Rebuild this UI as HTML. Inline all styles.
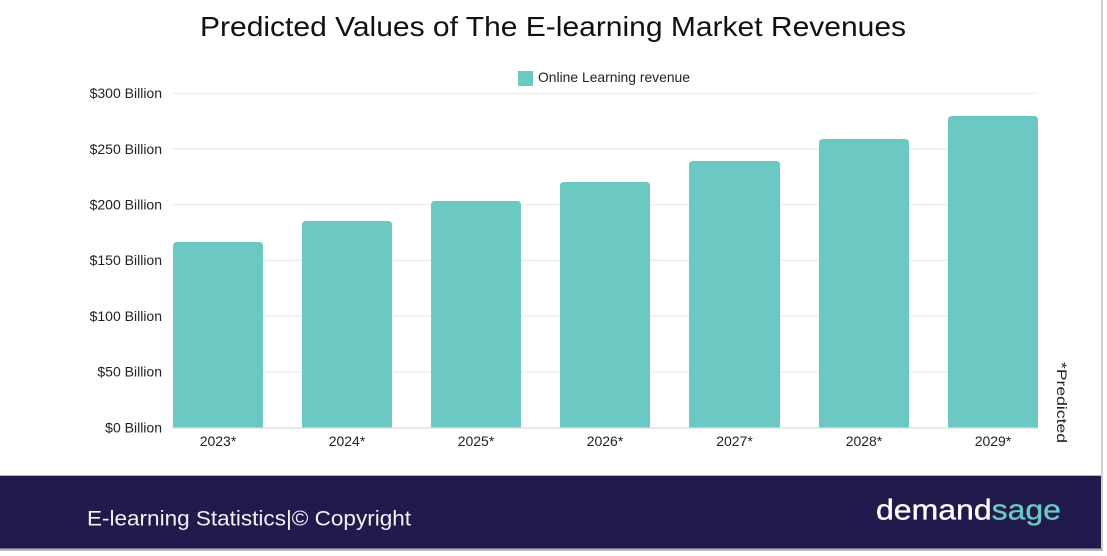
<!DOCTYPE html>
<html>
<head>
<meta charset="utf-8">
<style>
  html,body{margin:0;padding:0;background:#fff;}
  svg{display:block;}
  text{font-family:"Liberation Sans",Arial,sans-serif;}
</style>
</head>
<body>
<svg width="1107" height="556" viewBox="0 0 1107 556" xmlns="http://www.w3.org/2000/svg">
  <rect x="0" y="0" width="1107" height="556" fill="#ffffff"/>

  <!-- Title -->
  <text x="200" y="36" font-size="27.5" fill="#111" textLength="706" lengthAdjust="spacingAndGlyphs">Predicted Values of The E-learning Market Revenues</text>

  <!-- Legend -->
  <rect x="518" y="71" width="15" height="15" fill="#6cc8c2"/>
  <text x="538" y="82" font-size="14" fill="#222" textLength="152" lengthAdjust="spacingAndGlyphs">Online Learning revenue</text>

  <!-- Gridlines -->
  <g stroke="#ebebeb" stroke-width="1.2">
    <line x1="172" y1="93.3" x2="1038" y2="93.3"/>
    <line x1="172" y1="149" x2="1038" y2="149"/>
    <line x1="172" y1="204.7" x2="1038" y2="204.7"/>
    <line x1="172" y1="260.4" x2="1038" y2="260.4"/>
    <line x1="172" y1="316.1" x2="1038" y2="316.1"/>
    <line x1="172" y1="371.8" x2="1038" y2="371.8"/>
  </g>

  <!-- Y labels -->
  <g font-size="14" fill="#222" text-anchor="end">
    <text x="162" y="98">$300 Billion</text>
    <text x="162" y="154">$250 Billion</text>
    <text x="162" y="209.5">$200 Billion</text>
    <text x="162" y="265.2">$150 Billion</text>
    <text x="162" y="321">$100 Billion</text>
    <text x="162" y="376.6">$50 Billion</text>
    <text x="162" y="432.3">$0 Billion</text>
  </g>

  <!-- Bars -->
  <g fill="#6cc8c2">
    <path d="M173,428 V246 Q173,242 177,242 H259 Q263,242 263,246 V428 Z"/>
    <path d="M302,428 V225 Q302,221 306,221 H388 Q392,221 392,225 V428 Z"/>
    <path d="M431,428 V205 Q431,201 435,201 H517 Q521,201 521,205 V428 Z"/>
    <path d="M560,428 V186 Q560,182 564,182 H646 Q650,182 650,186 V428 Z"/>
    <path d="M689,428 V165 Q689,161 693,161 H776 Q780,161 780,165 V428 Z"/>
    <path d="M819,428 V143 Q819,139 823,139 H905 Q909,139 909,143 V428 Z"/>
    <path d="M948,428 V120 Q948,116 952,116 H1034 Q1038,116 1038,120 V428 Z"/>
  </g>

  <!-- Baseline -->
  <line x1="172" y1="428" x2="1038" y2="428" stroke="#dcdcdc" stroke-width="1.2"/>

  <!-- X labels -->
  <g font-size="14" fill="#222" text-anchor="middle">
    <text x="218" y="446">2023*</text>
    <text x="347" y="446">2024*</text>
    <text x="476" y="446">2025*</text>
    <text x="605" y="446">2026*</text>
    <text x="734.5" y="446">2027*</text>
    <text x="864" y="446">2028*</text>
    <text x="993" y="446">2029*</text>
  </g>

  <!-- *Predicted -->
  <text transform="translate(1057,362) rotate(90)" font-size="14" fill="#222" textLength="81" lengthAdjust="spacingAndGlyphs">*Predicted</text>

  <!-- Right border -->
  <rect x="1101" y="0" width="2" height="551" fill="#cfcfcf"/>

  <!-- Footer -->
  <rect x="0" y="475" width="1101" height="1" fill="#b9b6cc"/>
  <rect x="0" y="476" width="1101" height="72.5" fill="#201b4c"/>
  <rect x="0" y="548.5" width="1103" height="2.5" fill="#b8b8be"/>

  <text x="87" y="525.7" font-size="21" fill="#f2f2f6" textLength="324" lengthAdjust="spacingAndGlyphs">E-learning Statistics|© Copyright</text>

  <text x="876" y="519.3" font-size="29" stroke-width="0.35" textLength="185" lengthAdjust="spacingAndGlyphs"><tspan fill="#ffffff" stroke="#ffffff">demand</tspan><tspan fill="#6cc8c2" stroke="#6cc8c2">sage</tspan></text>
</svg>
</body>
</html>
